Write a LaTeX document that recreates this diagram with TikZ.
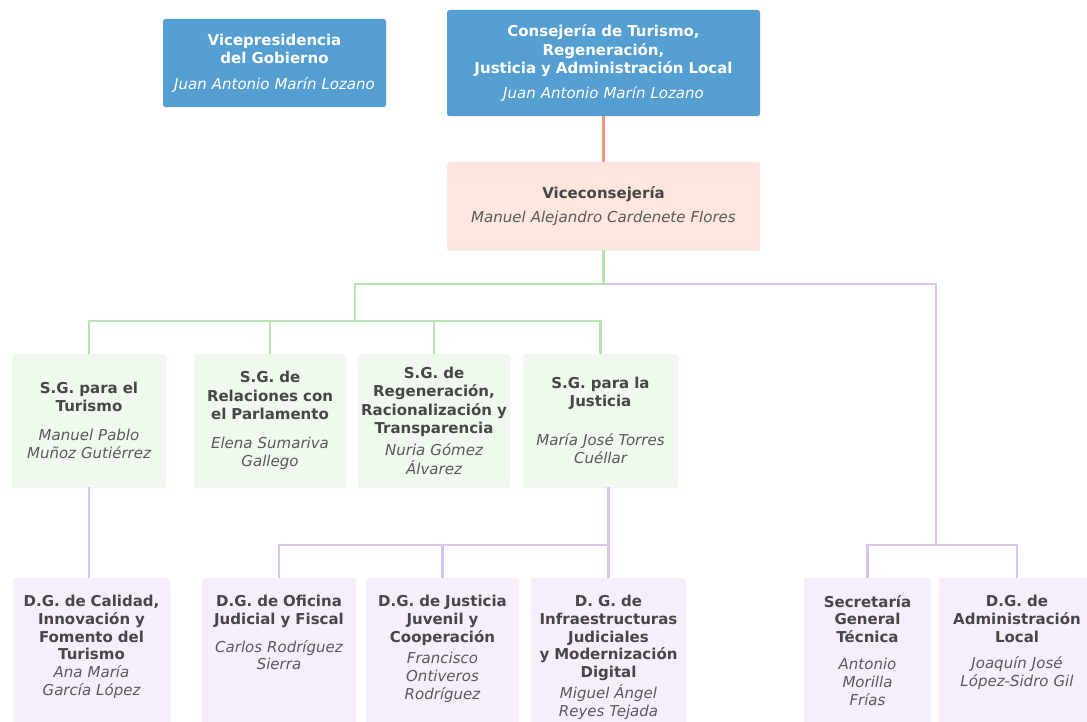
\documentclass[tikz,border=0pt]{standalone}
\usepackage{fontspec}
\setmainfont{DejaVu Sans}
\usetikzlibrary{positioning,shadows}
\definecolor{OCBlue}{HTML}{569FD3}
\definecolor{OCSalmon}{HTML}{FDE6DE}
\definecolor{OCOrange}{HTML}{F2937B}
\definecolor{OCMint}{HTML}{EFF9EE}
\definecolor{OCGreen}{HTML}{B6E5B0}
\definecolor{OCLilac}{HTML}{F7EEFB}
\definecolor{OCPurple}{HTML}{DBC3EF}
\definecolor{OCInk}{HTML}{474747}
\definecolor{OCSoft}{HTML}{5A5A5A}
\tikzset{
  box/.style={rounded corners=2.5pt,inner sep=0pt,align=center,
              font=\fontsize{15}{18.6}\selectfont\bfseries,text=OCInk,
              drop shadow={shadow xshift=0pt,shadow yshift=-1.2pt,opacity=.12}},
  boxtop/.style={box,fill=OCBlue,text=white},
  boxvice/.style={box,fill=OCSalmon},
  boxsg/.style={box,fill=OCMint,minimum height=133pt},
  boxdg/.style={box,fill=OCLilac,minimum height=170pt},
  dgtext/.style={inner sep=0pt,align=center,text=OCInk,text width=151pt,
                 font=\fontsize{15}{17.8}\selectfont\bfseries},
  link/.style={line width=2.6pt},
  linkorange/.style={link,OCOrange},
  linkgreen/.style={link,OCGreen},
  linkpurple/.style={link,OCPurple},
}
\newcommand{\who}[2][OCSoft]{{\mdseries\itshape\color{#1}#2}}
\begin{document}
\begin{tikzpicture}[x=1pt,y=-1pt]
  \useasboundingbox (0,0) rectangle (1087,722);
  % top row
  \node[boxtop,minimum width=223pt,text width=219pt,minimum height=88pt] (vicepres) at (274.5,63)
    {Vicepresidencia\\del Gobierno\\[7pt]\who[white]{Juan Antonio Marín Lozano}};
  \node[boxtop,minimum width=313pt,text width=309pt,minimum height=106pt] (consej) at (603.5,63)
    {Consejería de Turismo,\\Regeneración,\\Justicia y Administración Local\\[6pt]\who[white]{Juan Antonio Marín Lozano}};
  \node[boxvice,minimum width=313pt,text width=309pt,minimum height=88pt] (vicecons) at (603.5,206)
    {Viceconsejería\\[5pt]\who{Manuel Alejandro Cardenete Flores}};
  % subsecretarias
  \node[boxsg,minimum width=154pt,text width=152pt] (sgtur) at (89,420.5)
    {S.G. para el\\Turismo\\[10pt]\who{Manuel Pablo\\Muñoz Gutiérrez}};
  \node[boxsg,minimum width=152pt,text width=151pt] (sgrel) at (270,420.5)
    {S.G. de\\Relaciones con\\el Parlamento\\[10pt]\who{Elena Sumariva\\Gallego}};
  \node[boxsg,minimum width=152pt,text width=151pt] (sgreg) at (434,420.5)
    {S.G. de\\Regeneración,\\Racionalización y\\Transparencia\\[3pt]\who{Nuria Gómez\\Álvarez}};
  \node[boxsg,minimum width=155pt,text width=153pt] (sgjus) at (600.5,420.5)
    {S.G. para la\\Justicia\\[20pt]\who{María José Torres\\Cuéllar}};
  % direcciones generales
  \node[boxdg,minimum width=157pt] (dgcal) at (91.5,663) {};
  \node[boxdg,minimum width=154pt] (dgofi) at (279,663) {};
  \node[boxdg,minimum width=153pt] (dgjuv) at (442.5,663) {};
  \node[boxdg,minimum width=155pt] (dginf) at (608.5,663) {};
  \node[boxdg,minimum width=127pt] (sgtec) at (867.5,663) {};
  \node[boxdg,minimum width=156pt] (dgadm) at (1017,663) {};
  \node[dgtext,below=17pt of dgcal.north] (dgcaltxt)
    {D.G. de Calidad,\\Innovación y\\Fomento del\\Turismo\\\who{Ana María\\García López}};
  \node[dgtext,below=17pt of dgofi.north] (dgofitxt)
    {D.G. de Oficina\\Judicial y Fiscal\\[10pt]\who{Carlos Rodríguez\\Sierra}};
  \node[dgtext,below=17pt of dgjuv.north] (dgjuvtxt)
    {D.G. de Justicia\\Juvenil y\\Cooperación\\[4pt]\who{Francisco\\Ontiveros\\Rodríguez}};
  \node[dgtext,below=17pt of dginf.north] (dginftxt)
    {D. G. de\\Infraestructuras\\Judiciales\\y Modernización\\Digital\\[3pt]\who{Miguel Ángel\\Reyes Tejada}};
  \node[dgtext,text width=125pt,below=17pt of sgtec.north] (sgtectxt)
    {Secretaría\\General\\Técnica\\[9pt]\who{Antonio\\Morilla\\Frías}};
  \node[dgtext,below=17pt of dgadm.north] (dgadmtxt)
    {D.G. de\\Administración\\Local\\[9pt]\who{Joaquín José\\López-Sidro Gil}};
  % connectors
  \coordinate (vsplit) at (355,284);
  \coordinate (sgbar) at (355,321);
  \coordinate (admsplit) at (936,545);
  \coordinate (jusbar) at (608,545);
  \draw[linkorange] (consej) -- (vicecons);
  \draw[linkpurple] (vicecons.south |- vsplit) -| (admsplit);
  \draw[linkpurple] (sgtec.north) |- (admsplit) -| (dgadm.north);
  \draw[linkgreen] (vicecons.south) |- (vsplit) -- (sgbar);
  \draw[linkgreen] (sgtur.north) |- (sgbar) -| (sgjus.north);
  \draw[linkgreen] (sgrel.north) -- (sgrel.north |- sgbar);
  \draw[linkgreen] (sgreg.north) -- (sgreg.north |- sgbar);
  \draw[linkpurple] (sgtur.south) -- (sgtur.south |- dgcal.north);
  \draw[linkpurple] (dginf.north) -- (dginf.north |- sgjus.south);
  \draw[linkpurple] (dgofi.north) |- (jusbar);
  \draw[linkpurple] (dgjuv.north) -- (dgjuv.north |- jusbar);
\end{tikzpicture}
\end{document}
